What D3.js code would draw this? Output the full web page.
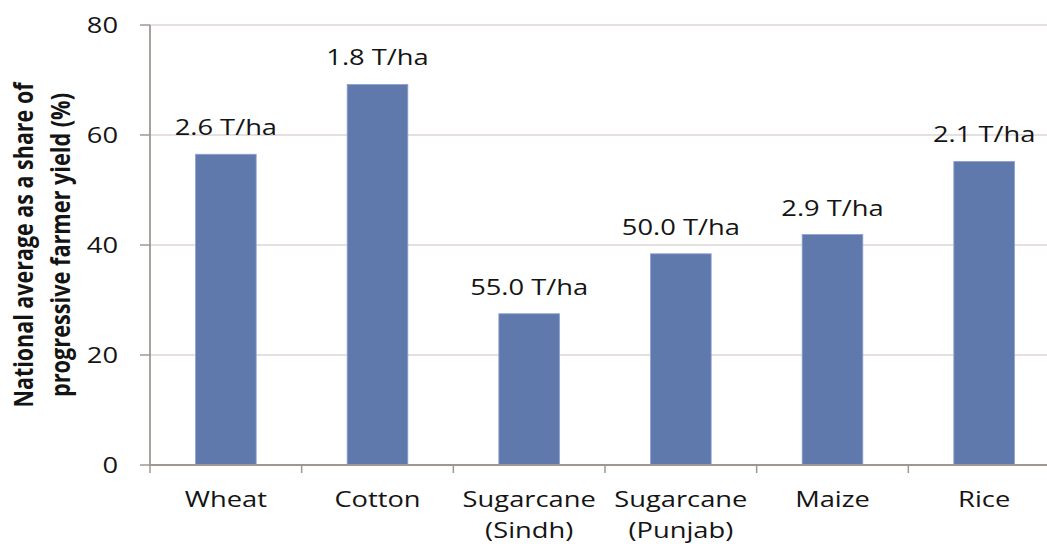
<!DOCTYPE html>
<html><head><meta charset="utf-8">
<script src="https://cdn.jsdelivr.net/npm/d3@7"></script>
<style>body{margin:0;background:#fff}svg{display:block}</style>
</head><body>
<script>
const categories = [["Wheat"],["Cotton"],["Sugarcane","(Sindh)"],["Sugarcane","(Punjab)"],["Maize"],["Rice"]];
const values = [56.5, 69.2, 27.5, 38.4, 41.9, 55.2];
const valueLabels = ["2.6 T/ha","1.8 T/ha","55.0 T/ha","50.0 T/ha","2.9 T/ha","2.1 T/ha"];
const yTicks = [0,20,40,60,80];
const yTitle = ["National average as a share of","progressive farmer yield (%)"];

const W=1047,H=544, SX=1.3;
const svg=d3.select("body").append("svg").attr("width",W).attr("height",H);
const keys=categories.map((c,i)=>i);
const x=d3.scaleBand().domain(keys).range([150,1060]).paddingInner(0.6).paddingOuter(0.3);
const y=d3.scaleLinear().domain([0,80]).range([465,25]);
const font="'Open Sans', sans-serif";
const txt="#141414";

// gridlines
svg.append("g").selectAll("line").data(yTicks.filter(t=>t>0)).join("line")
  .attr("x1",150).attr("x2",1060).attr("y1",d=>y(d)).attr("y2",d=>y(d))
  .attr("stroke","#dcd4d4").attr("stroke-width",1.5);

// bars
svg.append("g").selectAll("rect").data(values).join("rect")
  .attr("x",(d,i)=>x(i)).attr("width",x.bandwidth())
  .attr("y",d=>y(d)).attr("height",d=>y(0)-y(d))
  .attr("fill","#6079ad").attr("stroke","#8ea2cf").attr("stroke-width",0.8);

// axes lines
const axCol="#9f9794";
svg.append("line").attr("x1",150).attr("x2",150).attr("y1",25).attr("y2",466).attr("stroke",axCol).attr("stroke-width",1.8);
svg.append("line").attr("x1",150).attr("x2",1060).attr("y1",465).attr("y2",465).attr("stroke",axCol).attr("stroke-width",1.8);
svg.append("g").selectAll("line").data(yTicks).join("line")
  .attr("x1",140).attr("x2",150).attr("y1",d=>y(d)).attr("y2",d=>y(d)).attr("stroke",axCol).attr("stroke-width",1.5);
const bounds=keys.map(i=>x(i)-x.step()*x.paddingInner()/2);
svg.append("g").selectAll("line").data(bounds).join("line")
  .attr("x1",d=>d).attr("x2",d=>d).attr("y1",465).attr("y2",473).attr("stroke",axCol).attr("stroke-width",1.5);

function stext(g,tx,ty,s,anchor,size,weight){
  const gg=g.append("g").attr("transform",`translate(${tx},${ty}) scale(${SX},1)`);
  return gg.append("text").text(s).attr("text-anchor",anchor).attr("font-family",font)
    .attr("font-size",size).attr("font-weight",weight||400).attr("fill",txt);
}

// y tick labels
const yl=svg.append("g");
yTicks.forEach(t=>stext(yl,118,y(t)+7.5,String(t),"end",21));

// x labels
const xl=svg.append("g");
categories.forEach((c,i)=>{
  const cx=x(i)+x.bandwidth()/2;
  c.forEach((line,j)=>stext(xl,cx,507+j*31,line,"middle",21));
});

// value labels
const vl=svg.append("g");
values.forEach((v,i)=>{
  stext(vl,x(i)+x.bandwidth()/2,y(v)-19,valueLabels[i],"middle",21);
});

// y title
const yt=svg.append("g");
yTitle.forEach((s,j)=>{
  const bx=[33,70][j];
  const g=yt.append("g").attr("transform",`translate(${bx},245) scale(${SX},1) rotate(-90)`);
  g.append("text").text(s).attr("text-anchor","middle").attr("font-family",font)
   .attr("font-size",20).attr("font-weight",700).attr("fill",txt)
   .attr("textLength",[325,304][j]).attr("lengthAdjust","spacingAndGlyphs");
});
</script>
</body></html>
